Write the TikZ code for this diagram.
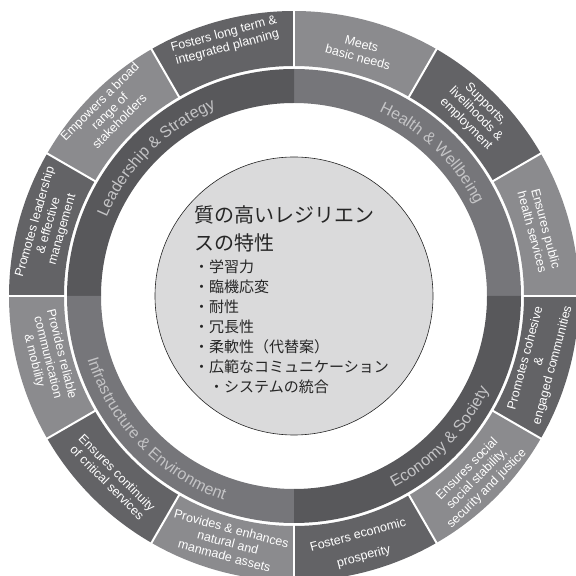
\documentclass[tikz,border=0pt]{standalone}
\usepackage{fontspec}
\setmainfont{Liberation Sans}
\newfontfamily\jpfont{Noto Sans CJK JP}
\usepackage{tikz}
\usetikzlibrary{decorations.text}

\definecolor{segdark}{HTML}{636366}
\definecolor{seglight}{HTML}{8B8B8E}
\definecolor{ringdark}{HTML}{58585B}
\definecolor{ringmid}{HTML}{76767A}
\definecolor{ringtext}{HTML}{C4C4C6}
\definecolor{corefill}{HTML}{DADADB}
\newcommand\ringlabelfont{\fontsize{16}{16}\selectfont\color{ringtext}}

\begin{document}
\begin{tikzpicture}[x=1pt,y=1pt,
  seg label/.style={text=white,align=center,inner sep=0pt,
    font=\fontsize{12.5}{14}\selectfont},
  core node/.style={circle,fill=corefill,draw=black!85,line width=0.6pt,
    minimum size=278pt,inner sep=0pt},
  title line/.style={anchor=base west,inner sep=0pt,text=black!85,
    font=\jpfont\fontsize{20}{20}\selectfont},
  list item/.style={anchor=base west,inner sep=0pt,text=black!85,
    font=\jpfont\fontsize{15}{15}\selectfont}]

  \useasboundingbox (0,0) rectangle (576,576);
  \clip (0,0) rectangle (576,576);

  \begin{scope}[shift={(294,280)}]
    % outer ring
    \foreach \a/\col in {0/seglight,30/segdark,60/seglight,90/segdark,
        120/seglight,150/segdark,180/seglight,210/segdark,
        240/seglight,270/segdark,300/seglight,330/segdark}
      \fill[\col] (\a:230) arc[start angle=\a,delta angle=30,radius=230]
        -- ({\a+30}:285) arc[start angle=\a+30,delta angle=-30,radius=285] -- cycle;
    \foreach \a in {0,30,...,330}
      \draw[white,line width=2pt] (\a:229) -- (\a:287);

    % inner ring
    \foreach \a/\col in {0/ringmid,90/ringdark,180/ringmid,270/ringdark}
      \fill[\col] (\a:193) arc[start angle=\a,delta angle=90,radius=193]
        -- ({\a+90}:227) arc[start angle=\a+90,delta angle=-90,radius=227] -- cycle;

    \path[decorate,decoration={text along path,text align=center,
        text={|\ringlabelfont|Leadership {\&} Strategy}}]
      (175:203) arc[start angle=175,end angle=95,radius=203];
    \path[decorate,decoration={text along path,text align=center,
        text={|\ringlabelfont|Health {\&} Wellbeing}}]
      (86:203) arc[start angle=86,end angle=6,radius=203];
    \path[decorate,decoration={text along path,text align=center,
        text={|\ringlabelfont|Infrastructure {\&} Environment}}]
      (184:216) arc[start angle=184,end angle=264,radius=216];
    \path[decorate,decoration={text along path,text align=center,
        text={|\ringlabelfont|Economy {\&} Society}}]
      (286:216) arc[start angle=286,end angle=346,radius=216];

    \foreach \ang/\r/\rot/\txt [count=\i] in {
        105/264/15/{Fosters long term \&\\integrated planning},
        75/254/-15/{Meets\\basic needs},
        45/257/-45/{Supports,\\livelihoods \&\\employment},
        15/254/-75/{Ensures public\\health services},
        345/254/75/{Promotes cohesive\\\&\\engaged communities},
        315/259/45/{Ensures social\\social stability,\\security and justice},
        285/259/15/{Fosters economic\\[8pt]prosperity},
        255/255/-15/{Provides \& enhances\\natural and\\manmade assets},
        225/257/-45/{Ensures continuity\\of critical services},
        194/254/-76/{Provides reliable\\communication\\\& mobility},
        164/255/74/{Promotes leadership\\\& effective\\management},
        135/261/45/{Empowers a broad\\range of\\stakeholders}}
      \node[seg label,rotate=\rot] (seg\i) at (\ang:\r) {\txt};

    % centre
    \node[core node] (core) at (0,0) {};
    \node[title line] (title1) at (-100,73.4) {質の高いレジリエン};
    \node[title line] (title2) at (-100,45.4) {スの特性};
    \foreach \txt [count=\i] in {・学習力,・臨機応変,・耐性,・冗長性,
        ・柔軟性（代替案）,・広範なコミュニケーション,　・システムの統合}
      \node[list item] (item\i) at (-100,{23.3-20*(\i-1)}) {\txt};
  \end{scope}

\end{tikzpicture}
\end{document}
